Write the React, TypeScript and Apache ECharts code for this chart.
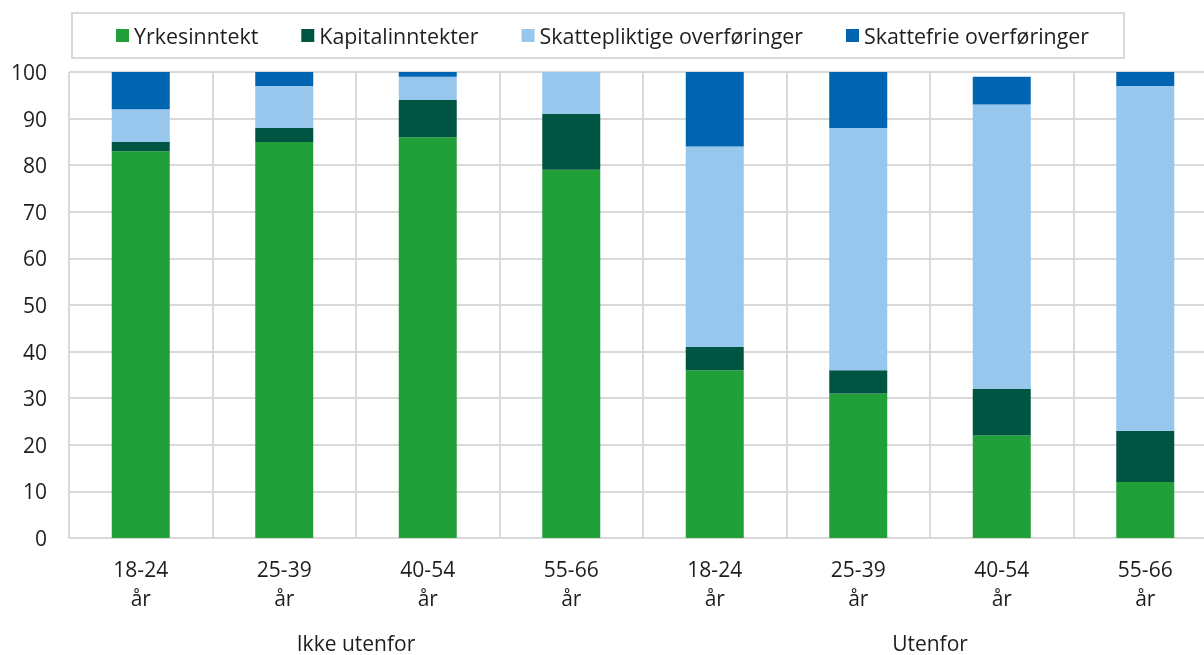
import React, { useEffect, useRef } from "react";
import * as echarts from "echarts";

const categories = ["18-24\når", "25-39\når", "40-54\når", "55-66\når", "18-24\når", "25-39\når", "40-54\når", "55-66\når"];
const groups = ["Ikke utenfor", "Utenfor"];
const yrkesinntekt = [83, 85, 86, 79, 36, 31, 22, 12];
const kapitalinntekter = [2, 3, 8, 12, 5, 5, 10, 11];
const skattepliktige = [7, 9, 5, 9, 43, 52, 61, 74];
const skattefrie = [8, 3, 1, 0, 16, 12, 6, 3];
const seriesNames = ["Yrkesinntekt", "Kapitalinntekter", "Skattepliktige overføringer", "Skattefrie overføringer"];
const colors = ["#21a039", "#005442", "#97c7ec", "#0064b0"];

const FONT = "Open Sans";
const TEXT = "#1e1e1e";
const GRIDC = "#d9d9d9";

export default function App() {
  const ref = useRef<HTMLDivElement>(null);
  useEffect(() => {
    if (!ref.current) return;
    const chart = echarts.init(ref.current, undefined, { renderer: "svg" });
    const data = [yrkesinntekt, kapitalinntekter, skattepliktige, skattefrie];
    chart.setOption({
      animation: false,
      textStyle: { fontFamily: FONT },
      legend: {
        left: 72,
        top: 13,
        padding: [12, 35, 12, 44],
        itemGap: 43,
        itemWidth: 13,
        itemHeight: 13,
        icon: "rect",
        borderColor: GRIDC,
        borderWidth: 2,
        selectedMode: false,
        textStyle: { fontFamily: FONT, fontSize: 21.4, color: TEXT, padding: 0 },
        data: seriesNames,
      },
      grid: { left: 69, width: 1148, top: 72, height: 466, containLabel: false, outerBoundsMode: "none" },
      xAxis: [
        {
          type: "category",
          data: categories,
          axisLine: { show: true, lineStyle: { color: GRIDC, width: 2 } },
          axisTick: { show: false },
          splitLine: { show: true, interval: 0, lineStyle: { color: GRIDC, width: 2 } },
          axisLabel: { interval: 0, margin: 16, fontSize: 21, lineHeight: 29, color: TEXT, fontFamily: FONT },
        },
        {
          type: "category",
          data: groups,
          position: "bottom",
          offset: 90,
          axisLine: { show: false },
          axisTick: { show: false },
          splitLine: { show: false },
          axisLabel: { interval: 0, margin: 0, fontSize: 21, lineHeight: 29, color: TEXT, fontFamily: FONT },
        },
      ],
      yAxis: {
        type: "value",
        min: 0,
        max: 100,
        interval: 10,
        axisLine: { show: false },
        axisTick: { show: false },
        splitLine: { show: true, lineStyle: { color: GRIDC, width: 2 } },
        axisLabel: { margin: 22, fontSize: 21, color: TEXT, fontFamily: FONT },
      },
      series: seriesNames.map((name, i) => ({
        name,
        type: "bar",
        stack: "total",
        barWidth: 58,
        xAxisIndex: 0,
        itemStyle: { color: colors[i] },
        data: data[i],
      })),
    });
    return () => chart.dispose();
  }, []);
  return <div ref={ref} style={{ position: "fixed", left: 0, top: 0, width: 1204, height: 655 }} />;
}
